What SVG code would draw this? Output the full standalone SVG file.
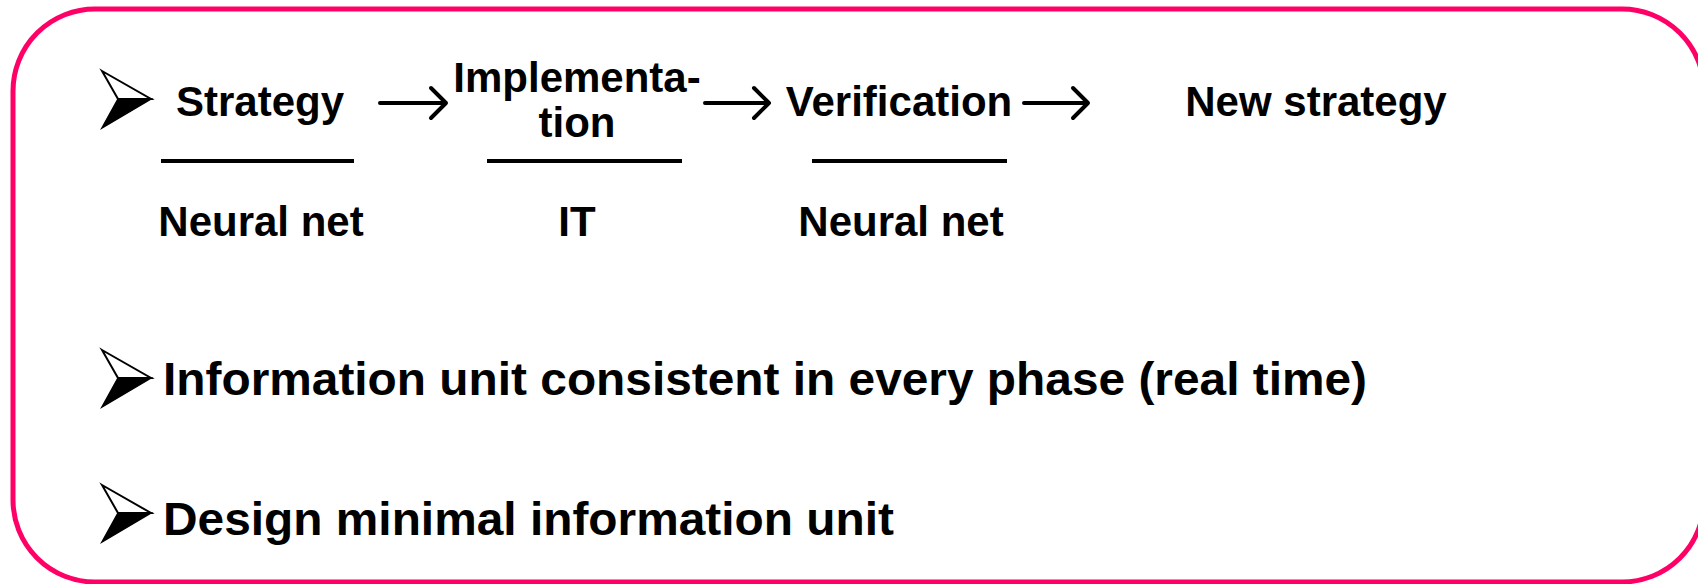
<svg xmlns="http://www.w3.org/2000/svg" width="1698" height="584" viewBox="0 0 1698 584">
  <style>
    .t { font-family: "Liberation Sans", Arial, sans-serif; font-weight: bold; fill: #000; }
    .s42 { font-size: 42px; }
    .s47 { font-size: 47px; }
    .ul { stroke: #000; stroke-width: 4; }
    .arr { fill: none; stroke: #000; stroke-width: 4; stroke-linecap: round; stroke-linejoin: round; }
  </style>
  <defs>
    <g id="bullet">
      <path d="M0,0 L49,28 L16,28 Z" fill="#fff" stroke="#000" stroke-width="2" stroke-linejoin="miter"/>
      <path d="M16,28 L49,28 L0,57 Z" fill="#000" stroke="#000" stroke-width="1.5"/>
    </g>
  </defs>
  <rect width="1698" height="584" fill="#fff"/>
  <rect id="frame" x="13" y="9" width="1691" height="573" rx="82" ry="82" fill="none" stroke="#FF0066" stroke-width="5"/>

  <g id="bullet1"><use href="#bullet" x="102" y="71"/></g>
  <g id="strategy">
    <text class="t s42" x="260" y="116" text-anchor="middle">Strategy</text>
    <line class="ul" x1="161" y1="161" x2="354" y2="161"/>
    <text class="t s42" x="261" y="236" text-anchor="middle">Neural net</text>
  </g>
  <g id="implementation">
    <text class="t s42" x="577" y="92" text-anchor="middle">Implementa-</text>
    <text class="t s42" x="577" y="137" text-anchor="middle">tion</text>
    <line class="ul" x1="487" y1="161" x2="682" y2="161"/>
    <text class="t s42" x="577" y="236" text-anchor="middle">IT</text>
  </g>
  <g id="verification">
    <text class="t s42" x="899" y="116" text-anchor="middle">Verification</text>
    <line class="ul" x1="812" y1="161" x2="1007" y2="161"/>
    <text class="t s42" x="901" y="236" text-anchor="middle">Neural net</text>
  </g>
  <g id="newstrategy">
    <text class="t s42" x="1316" y="116" text-anchor="middle">New strategy</text>
  </g>

  <g id="connectors">
    <path class="arr" d="M380,103 H446 M431,88 L446,103 L431,118"/>
    <path class="arr" d="M705,103 H769 M754,88 L769,103 L754,118"/>
    <path class="arr" d="M1024,103 H1088 M1073,88 L1088,103 L1073,118"/>
  </g>

  <g id="bullet2">
    <use href="#bullet" x="102" y="350"/>
    <text class="t s47" x="163" y="395" textLength="1204" lengthAdjust="spacingAndGlyphs">Information unit consistent in every phase (real time)</text>
  </g>
  <g id="bullet3">
    <use href="#bullet" x="102" y="485"/>
    <text class="t s47" x="163" y="535" textLength="731" lengthAdjust="spacingAndGlyphs">Design minimal information unit</text>
  </g>
</svg>
